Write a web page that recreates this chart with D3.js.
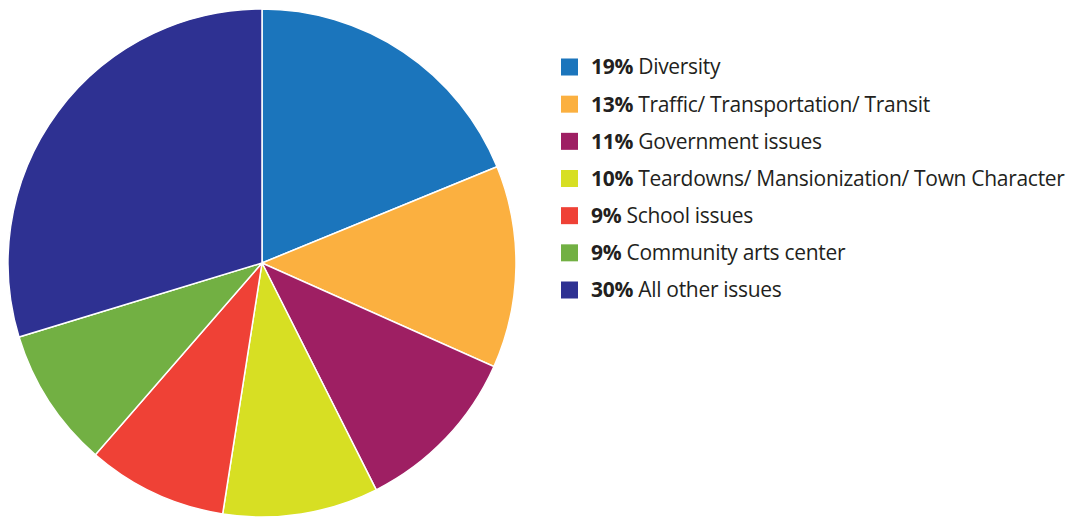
<!DOCTYPE html>
<html><head><meta charset="utf-8">
<script src="https://cdn.jsdelivr.net/npm/d3@7"></script>
<style>body{margin:0;background:#fff}</style>
</head><body>
<svg id="c" width="1070" height="519"></svg>
<script>
const categories = ["Diversity","Traffic/ Transportation/ Transit","Government issues","Teardowns/ Mansionization/ Town Character","School issues","Community arts center","All other issues"];
const values = [19,13,11,10,9,9,30];
const colors = ["#1b75bc","#fbb040","#9e1f63","#d7df23","#ef4136","#72b043","#2e3192"];

const svg = d3.select("#c");
const cx = 262, cy = 263, r = 254;
const pie = d3.pie().sort(null).value(d => d)(values);
const arc = d3.arc().innerRadius(0).outerRadius(r);
const g = svg.append("g").attr("transform", `translate(${cx},${cy})`);
g.selectAll("path").data(pie).join("path")
  .attr("d", arc).attr("fill", (d,i) => colors[i])
  .attr("stroke", "#fff").attr("stroke-width", 1.5);

const y = d3.scalePoint().domain(d3.range(categories.length)).range([67, 290]);
const lg = svg.append("g").attr("font-family", "'Open Sans', 'Noto Sans', sans-serif").attr("font-size", 21).attr("fill", "#231f20");
categories.forEach((c, i) => {
  lg.append("rect").attr("x", 561).attr("y", y(i) - 8.5).attr("width", 17).attr("height", 17).attr("fill", colors[i]);
  const t = lg.append("text").attr("x", 591).attr("y", y(i)).attr("dy", "0.35em").attr("letter-spacing", -0.3);
  t.append("tspan").attr("font-weight", "bold").text(values[i] + "%");
  t.append("tspan").text(" " + c);
});
</script>
</body></html>
